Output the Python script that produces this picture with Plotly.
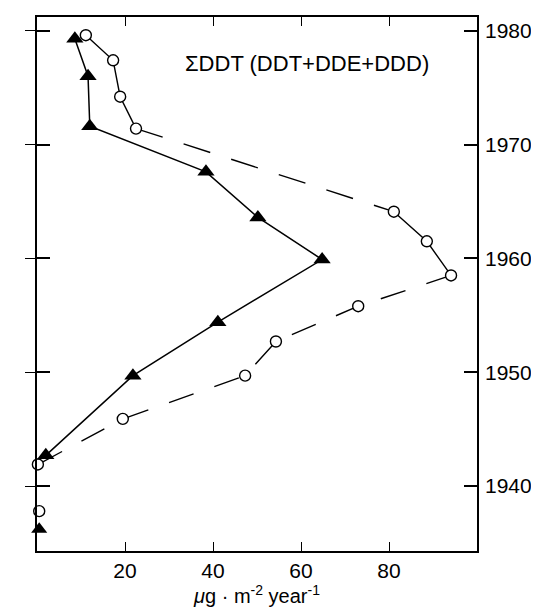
import plotly.graph_objects as go

# Triangles (solid line series)
tri_x = [8.6, 11.6, 12.0, 38.4, 50.2, 64.8, 41.1, 21.8, 2.0]
tri_y = [1979.3, 1976.0, 1971.6, 1967.6, 1963.6, 1959.9, 1954.4, 1949.7, 1942.7]
tri_iso_x = [0.5]
tri_iso_y = [1936.2]

# Open circles (dashed series)
circ_x = [11.1, 17.3, 18.9, 22.5, 81.1, 88.6, 94.1, 73.0, 54.3, 47.3, 19.5, 0.2]
circ_y = [1979.6, 1977.4, 1974.2, 1971.4, 1964.1, 1961.5, 1958.5, 1955.8, 1952.7, 1949.7, 1945.9, 1941.9]
circ_iso_x = [0.5]
circ_iso_y = [1937.8]

year_ticks = [1940, 1950, 1960, 1970, 1980]
x_ticks = [20, 40, 60, 80]
label_text = "ΣDDT (DDT+DDE+DDD)"

FONT = "Liberation Sans, Arial, sans-serif"
yr = [1934.3, 1981.2]

fig = go.Figure()

# dashed parts of circle series
fig.add_trace(go.Scatter(x=circ_x[3:5], y=circ_y[3:5], mode="lines",
                         line=dict(color="black", width=1.4, dash="28px,22px"),
                         showlegend=False, hoverinfo="skip", cliponaxis=False))
fig.add_trace(go.Scatter(x=circ_x[6:], y=circ_y[6:], mode="lines",
                         line=dict(color="black", width=1.4, dash="26px,22px"),
                         showlegend=False, hoverinfo="skip", cliponaxis=False))
# solid clusters
fig.add_trace(go.Scatter(x=circ_x[0:4], y=circ_y[0:4], mode="lines",
                         line=dict(color="black", width=1.4),
                         showlegend=False, hoverinfo="skip", cliponaxis=False))
fig.add_trace(go.Scatter(x=circ_x[4:7], y=circ_y[4:7], mode="lines",
                         line=dict(color="black", width=1.4),
                         showlegend=False, hoverinfo="skip", cliponaxis=False))

# triangle line
fig.add_trace(go.Scatter(x=tri_x, y=tri_y, mode="lines+markers",
                         line=dict(color="black", width=1.5),
                         marker=dict(symbol="triangle-up", size=15, color="black"),
                         showlegend=False, cliponaxis=False))
fig.add_trace(go.Scatter(x=tri_iso_x, y=tri_iso_y, mode="markers",
                         marker=dict(symbol="triangle-up", size=14, color="black"),
                         showlegend=False, cliponaxis=False))

# circle markers
fig.add_trace(go.Scatter(x=circ_x + circ_iso_x, y=circ_y + circ_iso_y, mode="markers",
                         marker=dict(symbol="circle", size=11, color="white",
                                     line=dict(color="black", width=1.4)),
                         showlegend=False, cliponaxis=False))

# left outside ticks (crossing ticks)
fig.add_trace(go.Scatter(x=[None], y=[None], yaxis="y2", showlegend=False))

fig.add_annotation(x=61.3, y=1977.1, xref="x", yref="y", xanchor="center",
                   text=label_text, showarrow=False,
                   font=dict(family=FONT, size=22, color="black"),
                   yanchor="middle")

fig.update_layout(
    width=539, height=609,
    margin=dict(l=29, r=70, t=7, b=66),
    paper_bgcolor="white", plot_bgcolor="white",
    font=dict(family=FONT, size=21, color="black"),
    xaxis=dict(range=[0, 100], tickvals=x_ticks, ticks="inside", ticklen=9,
               tickwidth=1.3, tickcolor="black",
               showline=True, linecolor="black", linewidth=1.6, mirror="ticks",
               showgrid=False, zeroline=False, ticklabelstandoff=0,
               title=dict(text="<i>μ</i>g · m<sup>-2</sup> year<sup>-1</sup>",
                          font=dict(family=FONT, size=20), standoff=2)),
    yaxis=dict(range=yr, tickvals=year_ticks, side="right", ticks="inside",
               ticklen=13, tickwidth=1.8, tickcolor="black",
               showline=True, linecolor="black", linewidth=1.6, mirror="ticks",
               showgrid=False, zeroline=False, ticklabelstandoff=2),
    yaxis2=dict(range=yr, tickvals=year_ticks, overlaying="y", side="left",
                ticks="outside", ticklen=11, tickwidth=1.3, tickcolor="black",
                showticklabels=False, showline=False, showgrid=False, zeroline=False),
)

fig.write_html("out.html")
